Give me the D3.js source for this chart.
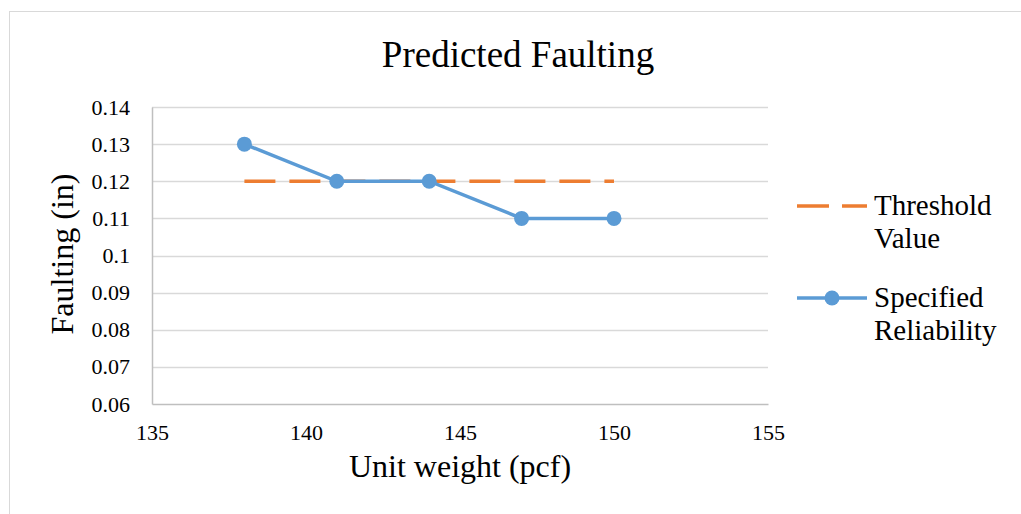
<!DOCTYPE html>
<html>
<head>
<meta charset="utf-8">
<script src="https://cdn.jsdelivr.net/npm/d3@7"></script>
<style>
  body { margin: 0; background: #fff; }
  svg text { font-family: "Liberation Serif", "Times New Roman", serif !important; fill: #000; }
</style>
</head>
<body>
<div id="chart"></div>
<script>
// data
const unitWeight = [138, 141, 144, 147, 150];
const specifiedReliability = [0.13, 0.12, 0.12, 0.11, 0.11];
const thresholdWeight = [138, 150];
const thresholdValue = [0.12, 0.12];
const xTicks = [135, 140, 145, 150, 155];
const yTicks = [0.06, 0.07, 0.08, 0.09, 0.1, 0.11, 0.12, 0.13, 0.14];

const width = 1021, height = 514;
const plot = { left: 152, right: 768, top: 107, bottom: 404 };

const svg = d3.select("#chart").append("svg")
  .attr("width", width)
  .attr("height", height);

// rand grafikona
svg.append("rect")
  .attr("x", 9.5).attr("y", 11.5)
  .attr("width", 1030).attr("height", 530)
  .attr("fill", "none")
  .attr("stroke", "#d9d9d9");

const x = d3.scaleLinear().domain([135, 155]).range([plot.left, plot.right]);
const y = d3.scaleLinear().domain([0.06, 0.14]).range([plot.bottom, plot.top]);

// gridlines
svg.append("g")
  .selectAll("line")
  .data(yTicks.filter(d => d > 0.06))
  .enter().append("line")
  .attr("x1", plot.left).attr("x2", plot.right)
  .attr("y1", d => Math.round(y(d)) + 0.5)
  .attr("y2", d => Math.round(y(d)) + 0.5)
  .attr("stroke", "#d9d9d9")
  .attr("stroke-width", 1.3);

// axes
const yAxis = svg.append("g")
  .attr("transform", "translate(" + plot.left + ",0)")
  .attr("font-family", null)
  .call(d3.axisLeft(y).tickValues(yTicks).tickSize(0).tickPadding(22)
    .tickFormat(d => String(+d.toFixed(2))));
yAxis.attr("font-family", null).attr("font-size", 22);
yAxis.select(".domain").attr("stroke", "#bfbfbf").attr("stroke-width", 1.5);

const xAxis = svg.append("g")
  .attr("transform", "translate(0," + plot.bottom + ")")
  .call(d3.axisBottom(x).tickValues(xTicks).tickSize(0).tickPadding(20));
xAxis.attr("font-family", null).attr("font-size", 22);
xAxis.select(".domain").attr("stroke", "#bfbfbf").attr("stroke-width", 1.5);

// title & axis labels
svg.append("text")
  .attr("x", 518).attr("y", 67)
  .attr("text-anchor", "middle")
  .attr("font-size", 37)
  .text("Predicted Faulting");

svg.append("text")
  .attr("x", 460).attr("y", 477)
  .attr("text-anchor", "middle")
  .attr("font-size", 32)
  .text("Unit weight (pcf)");

svg.append("text")
  .attr("transform", "rotate(-90)")
  .attr("x", -254)
  .attr("y", 73)
  .attr("text-anchor", "middle")
  .attr("font-size", 32)
  .text("Faulting (in)");

// threshold line
const line = d3.line().x(d => x(d[0])).y(d => y(d[1]));
svg.append("path")
  .datum(d3.zip(thresholdWeight, thresholdValue))
  .attr("d", line)
  .attr("fill", "none")
  .attr("stroke", "#ed7d31")
  .attr("stroke-width", 3.5)
  .attr("stroke-dasharray", "31,14");

// specified reliability
const series = d3.zip(unitWeight, specifiedReliability);
svg.append("path")
  .datum(series)
  .attr("d", line)
  .attr("fill", "none")
  .attr("stroke", "#5b9bd5")
  .attr("stroke-width", 3.5);

svg.selectAll(".pt")
  .data(series)
  .enter().append("circle")
  .attr("class", "pt")
  .attr("cx", d => x(d[0]))
  .attr("cy", d => y(d[1]))
  .attr("r", 7.5)
  .attr("fill", "#5b9bd5");

// legend
const legend = svg.append("g").attr("font-size", 29);
legend.append("line")
  .attr("x1", 797).attr("x2", 867)
  .attr("y1", 206).attr("y2", 206)
  .attr("stroke", "#ed7d31").attr("stroke-width", 3.5)
  .attr("stroke-dasharray", "32,13");
legend.append("text").attr("x", 874).attr("y", 215).text("Threshold");
legend.append("text").attr("x", 874).attr("y", 248).text("Value");

legend.append("line")
  .attr("x1", 797).attr("x2", 867)
  .attr("y1", 298).attr("y2", 298)
  .attr("stroke", "#5b9bd5").attr("stroke-width", 3.5);
legend.append("circle").attr("cx", 832).attr("cy", 298).attr("r", 7.5).attr("fill", "#5b9bd5");
legend.append("text").attr("x", 874).attr("y", 307).text("Specified");
legend.append("text").attr("x", 874).attr("y", 340).text("Reliability");
</script>
</body>
</html>
